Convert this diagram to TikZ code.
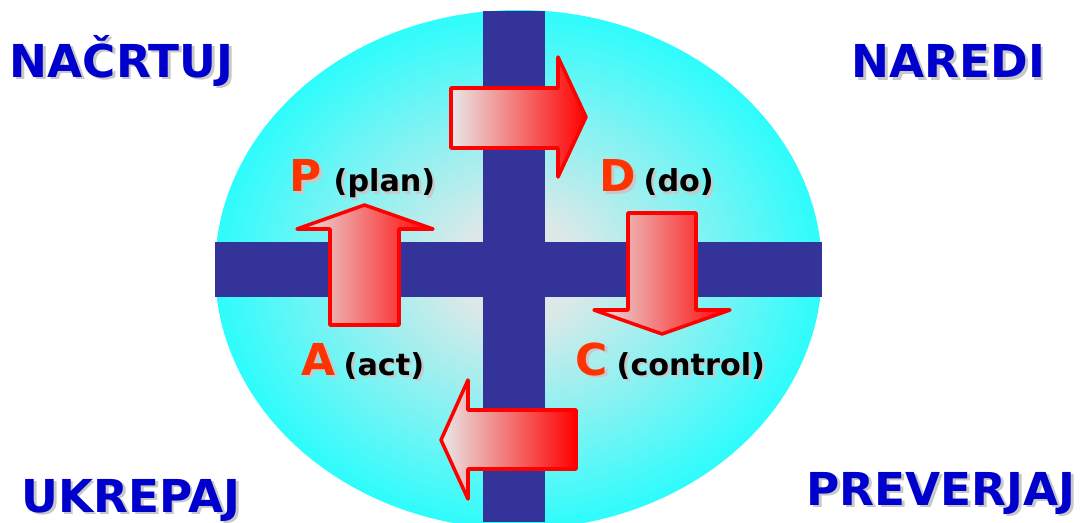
\documentclass[tikz,border=0pt]{standalone}
\usepackage{fontspec}
\setmainfont{DejaVu Sans}
\usepackage{tikz}
\usetikzlibrary{positioning}
\definecolor{barblue}{HTML}{333399}
\definecolor{titleblue}{HTML}{0000CC}
\definecolor{letterred}{HTML}{FF3300}
\definecolor{palecyan}{HTML}{DCE8E8}
\definecolor{brightcyan}{HTML}{14FFFF}
\definecolor{arrowgray}{HTML}{E8E8E8}
\definecolor{shadowgray}{HTML}{C8C8C8}
\pgfdeclareradialshading{cyanball}{\pgfpoint{0bp}{0bp}}{color(0bp)=(palecyan); color(5bp)=(palecyan); color(28bp)=(brightcyan); color(50bp)=(brightcyan)}
\newcommand{\shadowed}[2]{\rlap{\kern0.7pt\raisebox{-0.7pt}{\color{shadowgray}#2}}{\color{#1}#2}}

\begin{document}
\begin{tikzpicture}[
  corner/.style={anchor=base west, inner sep=0pt, font=\fontsize{12.9}{15}\selectfont\bfseries},
  letter/.style={anchor=base west, inner sep=0pt, font=\fontsize{12.5}{15}\selectfont\bfseries},
  word/.style={anchor=base west, inner sep=0pt, font=\fontsize{8.6}{10}\selectfont\bfseries},
  blockarrow/.style={draw=red, line width=1pt, line join=round, left color=arrowgray, right color=red}]

  \useasboundingbox (0,0) rectangle (10.82,5.22);

  % Ellipse with cross
  \begin{scope}
    \clip (0,0) rectangle (10.82,5.22);
    \shade[shading=cyanball] (5.185,2.525) ellipse [x radius=3.035, y radius=2.595];
    \fill[barblue] (4.83,0) rectangle (5.45,5.11);
    \fill[barblue] (2.15,2.25) rectangle (8.22,2.80);
  \end{scope}

  % Block arrows
  \shade[blockarrow] (4.51,4.34) -- (5.58,4.34) -- (5.58,4.65) -- (5.86,4.05)
    -- (5.58,3.45) -- (5.58,3.74) -- (4.51,3.74) -- cycle;
  \shade[blockarrow] (6.28,3.09) -- (6.96,3.09) -- (6.96,2.12) -- (7.30,2.12)
    -- (6.62,1.88) -- (5.94,2.12) -- (6.28,2.12) -- cycle;
  \shade[blockarrow] (5.76,1.12) -- (4.68,1.12) -- (4.68,1.42) -- (4.41,0.82)
    -- (4.68,0.23) -- (4.68,0.53) -- (5.76,0.53) -- cycle;
  \shade[blockarrow] (3.30,1.97) -- (3.99,1.97) -- (3.99,2.93) -- (4.33,2.93)
    -- (3.645,3.17) -- (2.97,2.93) -- (3.30,2.93) -- cycle;

  % Cycle labels
  \foreach \l/\w/\x/\y/\d in {P/plan/2.89/3.30/0.44, D/do/5.99/3.30/0.44,
                              A/act/3.01/1.47/0.42, C/control/5.75/1.47/0.41} {
    \node[letter] (\l) at (\x,\y) {\shadowed{letterred}{\l}};
    \node[word] (\l-word) at (\x+\d,\y) {\shadowed{black}{(\w)}};
  }

  % Corner titles
  \node[corner] (nacrtuj) at (0.09,4.45) {\shadowed{titleblue}{NAČRTUJ}};
  \node[corner] (naredi) at (8.51,4.44) {\shadowed{titleblue}{NAREDI}};
  \node[corner] (ukrepaj) at (0.21,0.10) {\shadowed{titleblue}{UKREPAJ}};
  \node[corner] (preverjaj) at (8.06,0.17) {\shadowed{titleblue}{PREVERJAJ}};

\end{tikzpicture}
\end{document}
